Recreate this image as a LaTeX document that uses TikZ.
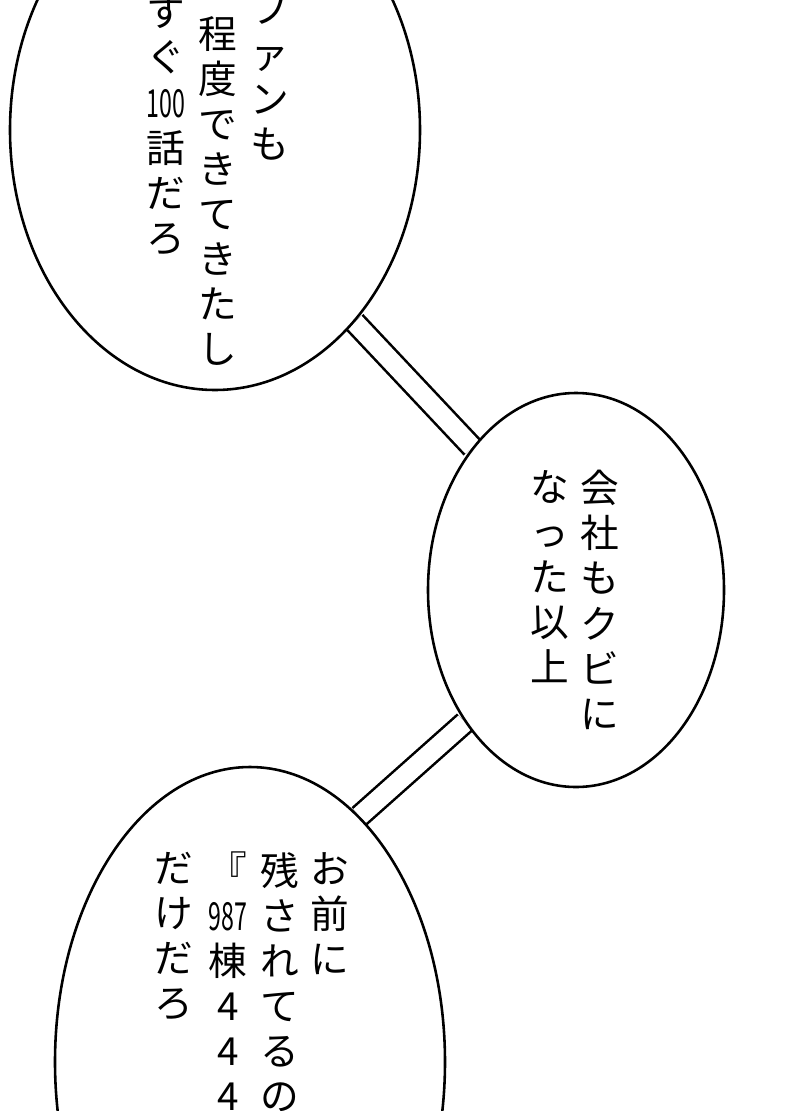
\documentclass[tikz,border=0pt]{standalone}
\usepackage{fontspec}
\newfontfamily\jpfont{Noto Sans CJK JP}[Scale=1]
\usetikzlibrary{shapes.geometric}
\pgfdeclarelayer{back}
\pgfsetlayers{back,main}
\newcommand{\tcy}[1]{\scalebox{0.6}[1]{#1}}
\tikzset{
    bubble/.style={
        draw,
        ellipse,
        line width=2.2pt,
        fill=white
    },
    column/.style={
        anchor=north,
        align=center,
        inner sep=0pt,
        font=\jpfont\fontsize{33}{38.5}\selectfont
    }
}

\begin{document}
\begin{tikzpicture}[x=0.03cm,y=-0.03cm]
    \useasboundingbox (0,0) rectangle (800,1111);
    \clip (0,0) rectangle (800,1111);

    %% bubbles
    \node (top) [bubble,minimum width=410*0.03cm,minimum height=520*0.03cm] at (215,130) {};
    \node (mid) [bubble,minimum width=296*0.03cm,minimum height=394*0.03cm] at (576,590) {};
    \node (bot) [bubble,minimum width=390*0.03cm,minimum height=590*0.03cm] at (250,1062) {};

    %% tails between bubbles
    \begin{pgfonlayer}{back}
        \draw[line width=2.2pt,double=white,double distance=16pt] (top.-54) -- (mid.126);
        \draw[line width=2.2pt,double=white,double distance=16pt] (mid.230) -- (bot.66);
    \end{pgfonlayer}

    %% top text
    \node (t1) [column] at (270,-4) {フ\\ァ\\ン\\も};
    \node (t2) [column] at (218,16) {程\\度\\で\\き\\て\\き\\た\\し};
    \node (t3) [column] at (166,-4) {す\\ぐ\\\tcy{100}\\話\\だ\\ろ};

    %% middle text
    \node (m1) [column] at (600,470) {会\\社\\も\\ク\\ビ\\に};
    \node (m2) [column] at (550,470) {な\\っ\\た\\以\\上};

    %% bottom text
    \node (b1) [column] at (330,852) {お\\前\\に};
    \node (b2) [column] at (280,852) {残\\さ\\れ\\て\\る\\の\\は};
    \node (b3) [column] at (228,852) {『\\\tcy{987}\\棟\\4\\4\\4\\4};
    \node (b4) [column] at (174,852) {だ\\け\\だ\\ろ};
\end{tikzpicture}
\end{document}
